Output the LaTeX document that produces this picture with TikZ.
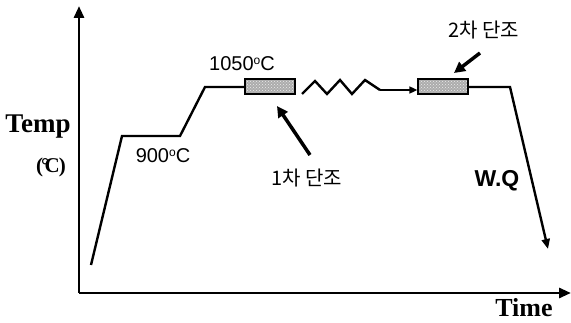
\documentclass[tikz,border=0pt]{standalone}
\usepackage{fontspec}
\setmainfont{Liberation Sans}
\newfontfamily\serifb{Liberation Serif}
\newfontfamily\kr{Noto Sans CJK KR}
\usetikzlibrary{arrows.meta,patterns}
\begin{document}
\begin{tikzpicture}[x=1pt,y=-1pt,
  axis/.style={line width=2.8pt,-{Triangle[length=12pt,width=10pt]}},
  prof/.style={line width=2.4pt,line join=miter},
  fbox/.style={draw=black,line width=1.2pt,minimum width=50pt,minimum height=15pt,inner sep=0pt,
    preaction={fill=gray!65},pattern=crosshatch dots,pattern color=white!85!gray},
  lbl/.style={line width=3.5pt,-{Triangle[length=11pt,width=11pt]}},
  thin/.style={line width=1.6pt,-{Triangle[length=8pt,width=7pt]}},
  temp/.style={font=\fontsize{20}{22}\selectfont,inner sep=0pt},
  krt/.style={font=\kr\fontsize{20}{22}\selectfont,inner sep=0pt},
  serl/.style={font=\serifb\bfseries\fontsize{27}{29}\selectfont,inner sep=0pt}]
\useasboundingbox (0,0) rectangle (571,323);
\fill[white] (0,0) rectangle (571,323);
% axes
\coordinate (O) at (79,293);
\coordinate (ytop) at (79,6);
\coordinate (xend) at (571,293);
\draw[axis] (O) -- (ytop);
\draw[axis] (O) -- (xend);
% boxes
\node[fbox] (b1) at (270,86.5) {};
\node[fbox] (b2) at (443,86.5) {};
% profile
\coordinate (p0) at (91,265);
\coordinate (p1) at (122,136);
\coordinate (p2) at (180,136);
\coordinate (p3) at (205,87);
\draw[prof] (p0) -- (p1) -- (p2) -- (p3) -- (b1.west |- p3);
% zigzag transfer
\coordinate (z0) at (302,94);
\coordinate (z1) at (315,81);
\coordinate (z2) at (327,94);
\coordinate (z3) at (340,80);
\coordinate (z4) at (352,94);
\coordinate (z5) at (365,80);
\coordinate (z6) at (380,90);
\draw[line width=2.4pt] (z0) -- (z1) -- (z2) -- (z3) -- (z4) -- (z5) -- (z6);
\draw[thin] (z6) -- (b2.west |- z6);
% quench
\coordinate (q1) at (510,87);
\coordinate (q2) at (548,249);
\draw[prof,-{Triangle[length=10pt,width=8pt]}] (b2.east |- q1) -- (q1) -- (q2);
% labels
\node[temp] (t1050) at (242,64) {1050\raisebox{6pt}{\fontsize{12}{12}\selectfont o}C};
\node[temp] (t900) at (163,156) {900\raisebox{6pt}{\fontsize{12}{12}\selectfont o}C};
\node[serl] (temp) at (38,127) {Temp};
\node[font=\serifb\bfseries\fontsize{21}{23}\selectfont,inner sep=0pt] (unit) at (51,167) {(\kern-2pt°\kern-5pt C\kern-1pt)};
\node[krt] (k1) at (307,178) {1차 단조};
\node[krt] (k2) at (484,30) {2차 단조};
\node[font=\bfseries\fontsize{23}{25}\selectfont,inner sep=0pt] (wq) at (497,181) {W.Q};
\node[font=\serifb\bfseries\fontsize{26}{28}\selectfont,inner sep=0pt] (time) at (524,308) {Time};
% label arrows
\coordinate (a1s) at (310,155);
\coordinate (a1e) at (277,106);
\draw[lbl] (a1s) -- (a1e);
\coordinate (a2s) at (480,53);
\coordinate (a2e) at (454,73);
\draw[lbl] (a2s) -- (a2e);
\end{tikzpicture}
\end{document}
